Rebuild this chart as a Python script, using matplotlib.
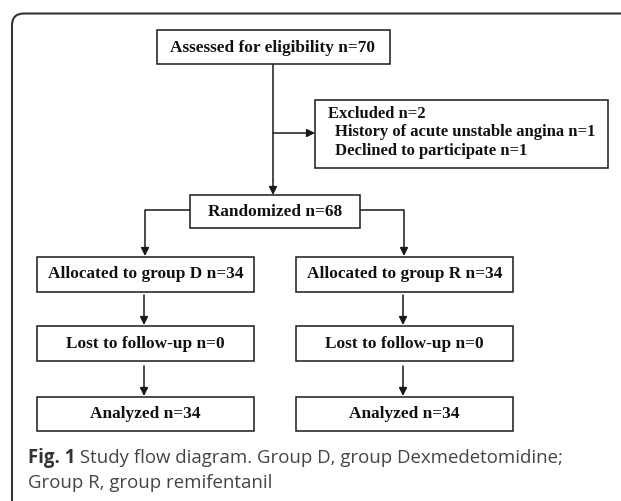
import matplotlib
matplotlib.use("Agg")
import matplotlib.pyplot as plt
from matplotlib.patches import Rectangle, FancyBboxPatch

# ---- content ----
top_label = "Assessed for eligibility n=70"
excluded_lines = ["Excluded n=2", "History of acute unstable angina n=1", "Declined to participate n=1"]
random_label = "Randomized n=68"
group_d = ["Allocated to group D n=34", "Lost to follow-up n=0", "Analyzed n=34"]
group_r = ["Allocated to group R n=34", "Lost to follow-up n=0", "Analyzed n=34"]
caption_bold = "Fig. 1"
caption_1 = " Study flow diagram. Group D, group Dexmedetomidine;"
caption_2 = "Group R, group remifentanil"

W, H = 621, 501
fig = plt.figure(figsize=(W / 100, H / 100), dpi=100)
ax = fig.add_axes([0, 0, 1, 1])
ax.set_xlim(0, W)
ax.set_ylim(H, 0)
ax.axis("off")

LC = "#1a1a1a"
LW = 1.1
serif = dict(family="Liberation Serif", fontweight="bold", color="#111111")
FS = 12.4

def box(x0, y0, x1, y1):
    ax.add_patch(Rectangle((x0, y0), x1 - x0, y1 - y0, fill=False, ec=LC, lw=LW))

def line(xs, ys):
    ax.plot(xs, ys, color=LC, lw=LW, solid_capstyle="butt")

def arrow(x0, y0, x1, y1):
    ax.annotate("", xy=(x1, y1), xytext=(x0, y0),
                arrowprops=dict(arrowstyle="-|>", color=LC, lw=LW,
                                mutation_scale=12, shrinkA=0, shrinkB=0))

# outer frame (rounded top-left corner, continues off right/bottom)
ax.add_patch(FancyBboxPatch((12, 13.5), 660, 560,
                            boxstyle="round,pad=0,rounding_size=12",
                            fill=False, ec="#333333", lw=1.5))

# top box
XC = 273
box(157, 30, 390, 64)
ax.text(XC, 47.5, top_label, ha="center", va="center", fontsize=FS, **serif)
line([XC, XC], [64, 180])
arrow(XC, 180, XC, 195)

# excluded box
box(315, 100, 608, 168)
arrow(XC, 133, 315, 133)
ax.text(328, 114, excluded_lines[0], ha="left", va="center", fontsize=12, **serif)
for i, t in enumerate(excluded_lines[1:]):
    ax.text(335, 132.5 + i * 18.5, t, ha="left", va="center", fontsize=12, **serif)

# randomized
box(190, 195, 360, 228)
ax.text(275, 212, random_label, ha="center", va="center", fontsize=FS, **serif)

cols = [(37, 254, 145, group_d), (296, 513, 404, group_r)]
rows = [(257, 292), (326, 361), (397, 431)]

# branches
line([190, 145], [210, 210])
arrow(145, 210, 145, 256)
line([360, 404], [210, 210])
arrow(404, 210, 404, 256)

for x0, x1, xc, labels in cols:
    for (y0, y1), lab in zip(rows, labels):
        box(x0, y0, x1, y1)
        ax.text((x0 + x1) / 2, (y0 + y1) / 2, lab, ha="center", va="center",
                fontsize=FS, **serif)
    arrow(xc - 1, 295, xc - 1, 325)
    arrow(xc - 1, 366, xc - 1, 396)

# caption
CF = 13.4
t = ax.text(28, 458, caption_bold, ha="left", va="center", fontsize=CF,
            family="Open Sans", fontweight="bold", color="#333333")
fig.canvas.draw()
bb = t.get_window_extent()
x_end = ax.transData.inverted().transform((bb.x1, 0))[0]
ax.text(x_end, 458, caption_1, ha="left", va="center", fontsize=CF,
        family="Open Sans", color="#444444")
ax.text(28, 483, caption_2, ha="left", va="center", fontsize=CF,
        family="Open Sans", color="#444444")

fig.savefig("out.png", dpi=100)
